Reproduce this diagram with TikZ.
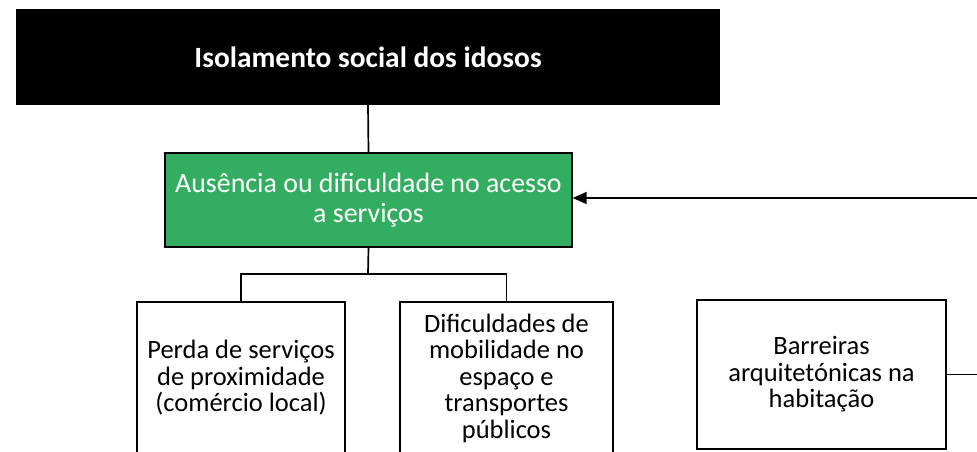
\documentclass[tikz,border=0pt]{standalone}
\usepackage{fontspec}
\setmainfont{Carlito}
\usetikzlibrary{arrows.meta}
\definecolor{boxgreen}{RGB}{51,174,96}
\begin{document}
\begin{tikzpicture}[x=1pt,y=-1pt,
  box/.style={draw=black, line width=1.3pt, rectangle, align=center, inner sep=0pt,
    font=\fontsize{26.5}{26.5}\selectfont},
  conn/.style={draw=black, line width=1.7pt}]
\useasboundingbox (0,0) rectangle (977,452);
\clip (0,0) rectangle (977,452);
\node[fill=black, text=white, minimum width=704pt, minimum height=96pt, inner sep=0pt,
  font=\fontsize{29.4}{34}\selectfont\bfseries] (t) at (368,57) {Isolamento social dos idosos};
\node[box, fill=boxgreen, text=white, minimum width=407pt, minimum height=94pt,
  font=\fontsize{27.9}{30}\selectfont] (g) at (368.5,200) {Ausência ou dificuldade no acesso\\a serviços};
\node[box, minimum width=208pt, minimum height=152pt] (l) at (241,378)
  {Perda de serviços\\de proximidade\\(comércio local)};
\node[box, minimum width=213pt, minimum height=152pt] (m) at (506.5,378)
  {Dificuldades de\\mobilidade no\\espaço e\\transportes\\públicos};
\node[box, minimum width=249pt, minimum height=149pt] (r) at (821.5,374.5)
  {Barreiras\\arquitetónicas na\\habitação};
\coordinate (j) at (368,274);
\coordinate (e) at (980,0);
\draw[conn] (t.south) -- (g.north);
\draw[conn] (g.south) -- (j);
\draw[conn] (l.north) |- (j) -| (m.north);
\draw[conn, -{Triangle[length=14pt,width=12pt]}] (r.east) -- (r.east -| e) |- ([yshift=2pt]g.east);
\end{tikzpicture}
\end{document}
